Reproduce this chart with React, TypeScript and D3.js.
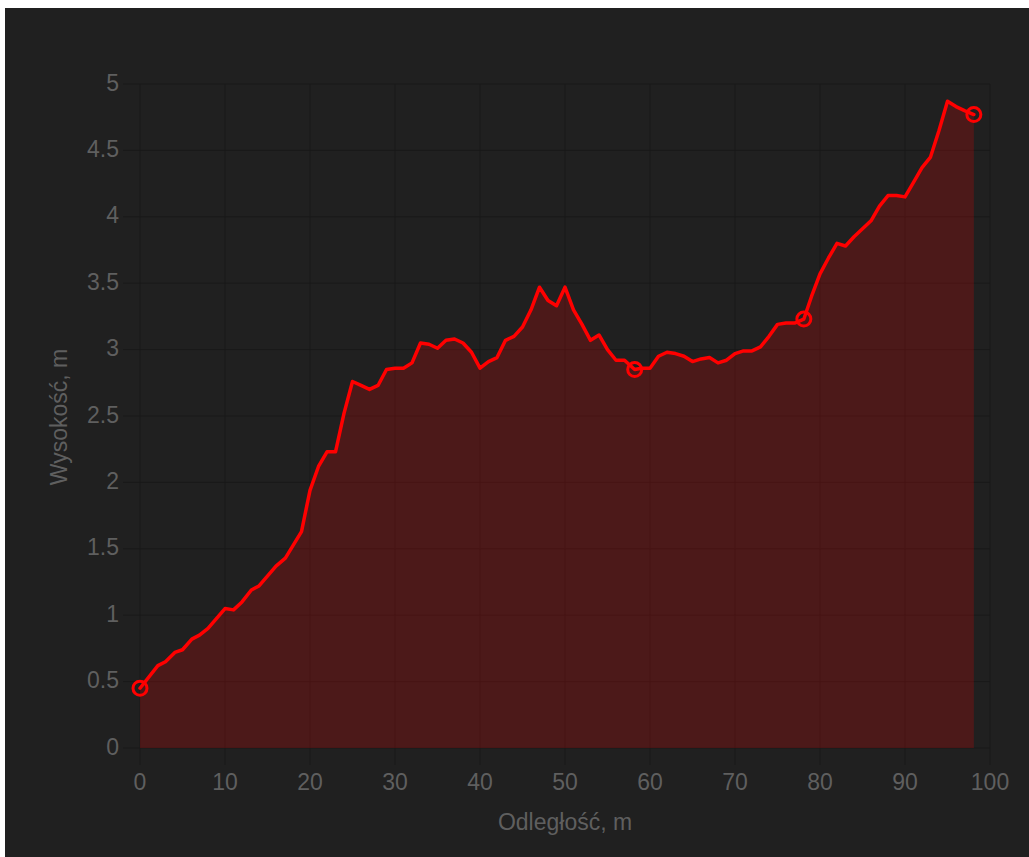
import React from "react";
import * as d3 from "d3";

const distances = [0, 2.1, 3, 4.1, 5, 6.1, 7, 8, 10, 11, 12, 13.1, 14, 16, 17.1, 19, 20, 21, 22, 23, 24, 25, 26, 27, 28, 29, 30, 31, 32, 33, 34, 35, 36, 37, 38, 39, 40, 41, 42, 43, 44, 45, 46, 47, 48, 49, 50, 51, 52, 53, 54, 55, 56, 57, 58.2, 59, 60, 61, 62, 63, 64, 65, 66, 67, 68, 69, 70, 71, 72, 73, 74, 75, 76, 77, 78.1, 79, 80, 81, 82, 83, 84, 85, 86, 87, 88, 89, 90, 91, 92, 93, 94, 95, 96, 97, 98.1];
const heights = [0.45, 0.62, 0.65, 0.72, 0.74, 0.82, 0.85, 0.9, 1.05, 1.04, 1.1, 1.19, 1.22, 1.37, 1.43, 1.63, 1.94, 2.12, 2.23, 2.23, 2.52, 2.76, 2.73, 2.7, 2.73, 2.85, 2.86, 2.86, 2.9, 3.05, 3.04, 3.01, 3.07, 3.08, 3.05, 2.98, 2.86, 2.91, 2.94, 3.07, 3.1, 3.17, 3.3, 3.47, 3.37, 3.33, 3.47, 3.3, 3.19, 3.07, 3.11, 3.0, 2.92, 2.92, 2.85, 2.86, 2.86, 2.95, 2.98, 2.97, 2.95, 2.91, 2.93, 2.94, 2.9, 2.92, 2.97, 2.99, 2.99, 3.02, 3.1, 3.19, 3.2, 3.2, 3.23, 3.4, 3.57, 3.69, 3.8, 3.78, 3.85, 3.91, 3.97, 4.08, 4.16, 4.16, 4.15, 4.26, 4.37, 4.45, 4.65, 4.87, 4.83, 4.8, 4.77];
const markerDistances = [0, 58.2, 78.1, 98.1];
const xTicks = [0, 10, 20, 30, 40, 50, 60, 70, 80, 90, 100];
const yTicks = [0, 0.5, 1, 1.5, 2, 2.5, 3, 3.5, 4, 4.5, 5];
const xTitle = "Odległość, m";
const yTitle = "Wysokość, m";

const W = 1024;
const H = 849;
const OX = 5; // page offset
const OY = 8;

export default function App() {
  const x = d3.scaleLinear().domain([0, 100]).range([140 - OX, 990 - OX]);
  const y = d3.scaleLinear().domain([0, 5]).range([748 - OY, 84 - OY]);
  const pts = distances.map((d, i) => [d, heights[i]] as [number, number]);
  const line = d3.line<[number, number]>().x((d) => x(d[0])).y((d) => y(d[1]));
  const area = d3
    .area<[number, number]>()
    .x((d) => x(d[0]))
    .y0(y(0))
    .y1((d) => y(d[1]));
  const markers = markerDistances.map((m) => {
    const i = distances.indexOf(m);
    return [m, heights[i]] as [number, number];
  });
  const font = "'Liberation Sans', Arial, sans-serif";
  const labelColor = "#5f5f5f";
  const gridColor = "#191919";
  const fs = 23;
  return (
    <svg
      width={W}
      height={H}
      style={{ position: "absolute", left: OX, top: OY, display: "block" }}
    >
      <rect x={0} y={0} width={W} height={H} fill="#202020" />
      {yTicks.map((t) => (
        <line
          key={"gy" + t}
          x1={123 - OX}
          x2={x(100)}
          y1={y(t)}
          y2={y(t)}
          stroke={gridColor}
          strokeWidth={1}
        />
      ))}
      {xTicks.map((t) => (
        <line
          key={"gx" + t}
          x1={x(t)}
          x2={x(t)}
          y1={y(5)}
          y2={765 - OY}
          stroke={gridColor}
          strokeWidth={1}
        />
      ))}
      <path d={area(pts) || ""} fill="rgba(255,0,0,0.2)" />
      <path
        d={line(pts) || ""}
        fill="none"
        stroke="#ff0000"
        strokeWidth={3.5}
        strokeLinejoin="round"
        strokeLinecap="round"
      />
      {markers.map((m, i) => (
        <circle
          key={"m" + i}
          cx={x(m[0])}
          cy={y(m[1])}
          r={7}
          fill="none"
          stroke="#ff0000"
          strokeWidth={3}
        />
      ))}
      {yTicks.map((t) => (
        <text
          key={"ly" + t}
          x={119 - OX}
          y={y(t) + 6.5}
          textAnchor="end"
          fill={labelColor}
          fontFamily={font}
          fontSize={fs}
        >
          {String(t)}
        </text>
      ))}
      {xTicks.map((t) => (
        <text
          key={"lx" + t}
          x={x(t)}
          y={790 - OY}
          textAnchor="middle"
          fill={labelColor}
          fontFamily={font}
          fontSize={fs}
        >
          {String(t)}
        </text>
      ))}
      <text
        x={565 - OX}
        y={830 - OY}
        textAnchor="middle"
        fill={labelColor}
        fontFamily={font}
        fontSize={fs}
      >
        {xTitle}
      </text>
      <text
        transform={`translate(${67 - OX},${417 - OY}) rotate(-90)`}
        textAnchor="middle"
        fill={labelColor}
        fontFamily={font}
        fontSize={fs}
      >
        {yTitle}
      </text>
    </svg>
  );
}
